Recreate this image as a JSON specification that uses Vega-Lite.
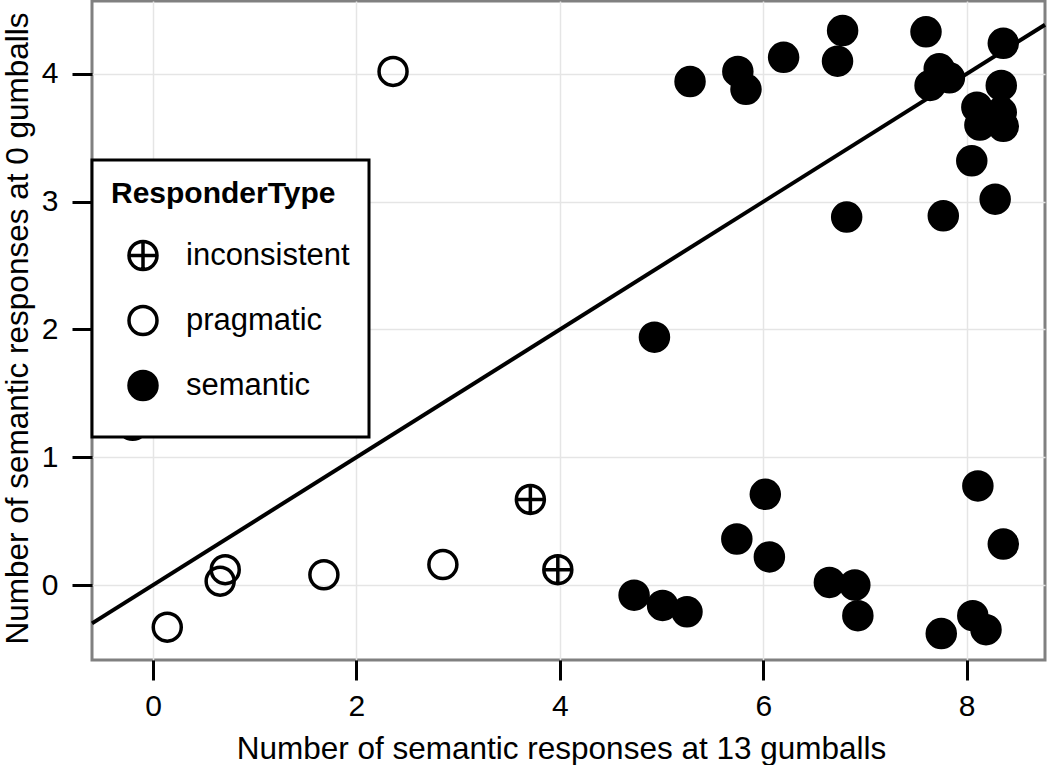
{
  "$schema": "https://vega.github.io/schema/vega-lite/v6.json",
  "width": 953,
  "height": 659,
  "autosize": {"type": "none"},
  "padding": {"left": 92, "top": 1, "right": 5, "bottom": 105},
  "background": "white",
  "datasets": {
    "pts": [
      {"x13": 5.28, "x0": 3.94, "type": "semantic"},
      {"x13": 5.75, "x0": 4.02, "type": "semantic"},
      {"x13": 5.83, "x0": 3.88, "type": "semantic"},
      {"x13": 6.2, "x0": 4.13, "type": "semantic"},
      {"x13": 6.78, "x0": 4.34, "type": "semantic"},
      {"x13": 6.73, "x0": 4.1, "type": "semantic"},
      {"x13": 7.6, "x0": 4.33, "type": "semantic"},
      {"x13": 7.73, "x0": 4.04, "type": "semantic"},
      {"x13": 7.83, "x0": 3.97, "type": "semantic"},
      {"x13": 7.64, "x0": 3.91, "type": "semantic"},
      {"x13": 8.36, "x0": 4.24, "type": "semantic"},
      {"x13": 8.34, "x0": 3.91, "type": "semantic"},
      {"x13": 8.1, "x0": 3.74, "type": "semantic"},
      {"x13": 8.13, "x0": 3.6, "type": "semantic"},
      {"x13": 8.34, "x0": 3.7, "type": "semantic"},
      {"x13": 8.36, "x0": 3.59, "type": "semantic"},
      {"x13": 8.05, "x0": 3.32, "type": "semantic"},
      {"x13": 8.28, "x0": 3.02, "type": "semantic"},
      {"x13": 6.82, "x0": 2.88, "type": "semantic"},
      {"x13": 7.77, "x0": 2.89, "type": "semantic"},
      {"x13": 4.93, "x0": 1.94, "type": "semantic"},
      {"x13": -0.2, "x0": 1.25, "type": "semantic"},
      {"x13": 8.11, "x0": 0.775, "type": "semantic"},
      {"x13": 8.36, "x0": 0.32, "type": "semantic"},
      {"x13": 6.02, "x0": 0.71, "type": "semantic"},
      {"x13": 5.74, "x0": 0.36, "type": "semantic"},
      {"x13": 6.06, "x0": 0.22, "type": "semantic"},
      {"x13": 4.73, "x0": -0.08, "type": "semantic"},
      {"x13": 5.01, "x0": -0.16, "type": "semantic"},
      {"x13": 5.25, "x0": -0.21, "type": "semantic"},
      {"x13": 6.65, "x0": 0.02, "type": "semantic"},
      {"x13": 6.9, "x0": 0.0, "type": "semantic"},
      {"x13": 6.93, "x0": -0.24, "type": "semantic"},
      {"x13": 7.75, "x0": -0.38, "type": "semantic"},
      {"x13": 8.06, "x0": -0.24, "type": "semantic"},
      {"x13": 8.19, "x0": -0.35, "type": "semantic"},
      {"x13": 0.14, "x0": -0.33, "type": "pragmatic"},
      {"x13": 0.71, "x0": 0.12, "type": "pragmatic"},
      {"x13": 0.66, "x0": 0.03, "type": "pragmatic"},
      {"x13": 1.68, "x0": 0.08, "type": "pragmatic"},
      {"x13": 2.85, "x0": 0.16, "type": "pragmatic"},
      {"x13": 2.36, "x0": 4.02, "type": "pragmatic"},
      {"x13": 3.71, "x0": 0.67, "type": "inconsistent"},
      {"x13": 3.98, "x0": 0.12, "type": "inconsistent"}
    ],
    "ref": [
      {"x13": -0.6, "x0": -0.3, "x13e": 8.77, "x0e": 4.385}
    ]
  },
  "layer": [
    {
      "data": {"name": "pts"},
      "mark": {"type": "point", "filled": true, "size": 784, "strokeWidth": 3.5, "opacity": 1},
      "encoding": {
        "x": {
          "field": "x13", "type": "quantitative",
          "scale": {"domain": [-0.6, 8.77], "nice": false, "zero": false},
          "axis": {"values": [0, 2, 4, 6, 8], "format": "d", "title": "Number of semantic responses at 13 gumballs", "titleX": 469}
        },
        "y": {
          "field": "x0", "type": "quantitative",
          "scale": {"domain": [-0.587, 4.571], "nice": false, "zero": false},
          "axis": {"values": [0, 1, 2, 3, 4], "format": "d", "title": "Number of semantic responses at 0 gumballs", "labelPadding": 14, "titleY": 327}
        },
        "shape": {
          "field": "type", "type": "nominal", "title": "ResponderType",
          "scale": {
            "domain": ["inconsistent", "pragmatic", "semantic"],
            "range": ["M-1,0A1,1 0 1,1 1,0A1,1 0 1,1 -1,0ZM-1,0L1,0M0,-1L0,1", "circle", "circle"]
          }
        },
        "fill": {
          "field": "type", "type": "nominal", "title": "ResponderType",
          "scale": {
            "domain": ["inconsistent", "pragmatic", "semantic"],
            "range": ["transparent", "transparent", "black"]
          }
        },
        "stroke": {
          "field": "type", "type": "nominal", "title": "ResponderType",
          "scale": {
            "domain": ["inconsistent", "pragmatic", "semantic"],
            "range": ["black", "black", "black"]
          }
        }
      }
    },
    {
      "data": {"name": "ref"},
      "mark": {"type": "rule", "color": "black", "strokeWidth": 4},
      "encoding": {
        "x": {"field": "x13", "type": "quantitative"},
        "y": {"field": "x0", "type": "quantitative"},
        "x2": {"field": "x13e"},
        "y2": {"field": "x0e"}
      }
    }
  ],
  "config": {
    "view": {"stroke": "#808080", "strokeWidth": 3},
    "axis": {
      "domain": false,
      "grid": true,
      "gridColor": "#e5e5e5",
      "gridWidth": 1.5,
      "tickColor": "black",
      "tickWidth": 3,
      "tickSize": 20,
      "labelFont": "Liberation Sans",
      "labelFontSize": 30,
      "labelColor": "black",
      "labelPadding": 11,
      "titleFont": "Liberation Sans",
      "titleFontSize": 31.5,
      "titleFontWeight": "normal",
      "titleColor": "black"
    },
    "axisX": {"titlePadding": 12},
    "axisY": {"titlePadding": 7},
    "legend": {
      "orient": "none",
      "legendX": 0,
      "legendY": 159,
      "strokeColor": "black",
      "strokeWidth": 3,
      "fillColor": "white",
      "padding": 19,
      "titleFont": "Liberation Sans",
      "titleFontSize": 30,
      "titleFontWeight": "bold",
      "titleColor": "black",
      "titleLimit": 500,
      "titlePadding": 14,
      "labelFont": "Liberation Sans",
      "labelFontSize": 31,
      "labelColor": "black",
      "labelLimit": 500,
      "labelOffset": 27,
      "symbolSize": 784,
      "symbolStrokeWidth": 3.5,
      "symbolStrokeColor": "black",
      "symbolOffset": 16,
      "clipHeight": 65,
      "rowPadding": 0
    }
  }
}
